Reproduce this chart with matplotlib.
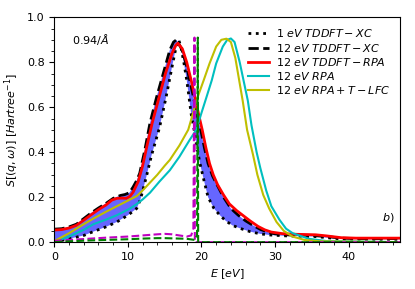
import numpy as np
import matplotlib
matplotlib.use("Agg")
import matplotlib.pyplot as plt
from matplotlib.ticker import MultipleLocator

plt.rcParams['font.size'] = 8

# 1 eV TDDFT-XC (dotted)
E_1xc = [0, 2, 4, 5.3, 7, 8.5, 10, 11.2, 11.7, 12.5, 13.2, 14.3, 15.2, 16.0, 16.5, 16.9,
         17.2, 17.6, 18.0, 18.3, 18.6, 19.0, 19.4, 19.8, 20.3, 20.9, 21.7, 22.5, 23.3,
         24.2, 25.2, 26.6, 28, 29.3, 31.5, 35.5, 38, 40, 47]
S_1xc = [0.0, 0.015, 0.03, 0.047, 0.068, 0.09, 0.12, 0.15, 0.19, 0.29, 0.385, 0.51, 0.647, 0.78, 0.86, 0.90,
         0.87, 0.80, 0.72, 0.647, 0.57, 0.50, 0.42, 0.35, 0.28, 0.20, 0.15, 0.12, 0.095,
         0.075, 0.062, 0.047, 0.037, 0.032, 0.028, 0.025, 0.017, 0.013, 0.013]

# 12 eV TDDFT-XC (dashed)
E_12xc = [0, 1, 2, 3, 4, 5, 6, 7, 8, 9, 9.6, 10.2, 10.7, 11.2, 11.6, 12.3, 13.0, 13.9, 14.8,
          15.7, 16.2, 16.6, 17.3, 17.9, 18.4, 18.9, 19.4, 19.9, 20.4, 20.9, 21.5, 22.2,
          23.0, 24.0, 25.0, 26.0, 27, 28, 29, 30, 32, 35, 37, 39, 41, 47]
S_12xc = [0.058, 0.06, 0.068, 0.08, 0.105, 0.13, 0.152, 0.172, 0.195, 0.208, 0.212, 0.22, 0.245, 0.275, 0.306, 0.41, 0.53, 0.645, 0.75,
          0.855, 0.89, 0.90, 0.86, 0.795, 0.72, 0.647, 0.57, 0.50, 0.42, 0.35, 0.295, 0.25,
          0.20, 0.15, 0.12, 0.095, 0.075, 0.057, 0.045, 0.037, 0.032, 0.03, 0.025, 0.018, 0.016, 0.016]

# 12 eV TDDFT-RPA (red)
E_12rpa = [0, 1, 2, 3, 4, 5, 6, 7, 7.8, 8.5, 9.2, 9.8, 10.3, 10.7, 11.4, 12, 12.6, 13.3, 14.2,
           15.1, 16, 16.5, 16.8, 17.4, 18.0, 18.6, 19.1, 19.6, 20.1, 20.6, 21.1, 21.6, 22.2,
           23.0, 23.8, 24.8, 25.6, 26.6, 27.7, 28.6, 29.5, 31, 33, 35.5, 37, 39, 41, 47]
S_12rpa = [0.054, 0.056, 0.063, 0.075, 0.098, 0.122, 0.145, 0.165, 0.187, 0.195, 0.196, 0.195, 0.205, 0.222, 0.27, 0.34, 0.43, 0.53, 0.64,
           0.75, 0.84, 0.875, 0.885, 0.86, 0.80, 0.72, 0.647, 0.57, 0.50, 0.42, 0.35, 0.30, 0.255,
           0.21, 0.17, 0.14, 0.12, 0.095, 0.07, 0.055, 0.045, 0.038, 0.035, 0.033, 0.028, 0.02, 0.018, 0.018]

# 12 eV RPA (cyan)
E_rpa = [0, 2, 4, 5.3, 7, 8.5, 10.3, 11.2, 12, 13, 14.3, 15.7, 17, 18.4, 19.3, 20, 20.7, 21.4,
         22.0, 22.9, 23.5, 24.0, 24.5, 25.2, 26.3, 26.8, 27.5, 28, 28.8, 29.5, 30.6, 31.5,
         32.4, 34.6, 37, 47]
S_rpa = [0.0, 0.025, 0.055, 0.08, 0.10, 0.12, 0.15, 0.17, 0.19, 0.22, 0.27, 0.32, 0.38, 0.455, 0.50, 0.575, 0.647, 0.72,
         0.795, 0.87, 0.90, 0.906, 0.89, 0.80, 0.63, 0.52, 0.40, 0.33, 0.23, 0.16, 0.10, 0.06,
         0.04, 0.015, 0.005, 0.0]

# 12 eV RPA + T-LFC (yellow)
E_lfc = [0, 2, 4, 5.3, 7, 8.5, 10, 11.2, 12, 13, 14, 15, 15.7, 17, 18.2, 19.5, 20.3, 21.1,
         22.0, 22.7, 23.4, 24.0, 24.6, 25.6, 26.2, 27, 27.6, 28.4, 29.2, 30.2, 31.2, 32.4,
         34, 36, 47]
S_lfc = [0.005, 0.04, 0.08, 0.105, 0.135, 0.16, 0.185, 0.205, 0.23, 0.265, 0.30, 0.34, 0.366, 0.43, 0.50, 0.647, 0.72, 0.795,
         0.87, 0.90, 0.905, 0.89, 0.82, 0.63, 0.50, 0.39, 0.30, 0.21, 0.15, 0.09, 0.05, 0.025,
         0.01, 0.004, 0.0]

# magenta and green dashed (no legend)
E_m = [0, 2, 5, 7, 10, 12, 14, 15, 16, 17, 18, 18.6, 18.9, 19.05, 19.1, 20, 30, 47]
S_m = [0.006, 0.01, 0.016, 0.02, 0.025, 0.03, 0.035, 0.037, 0.035, 0.03, 0.025, 0.03, 0.06, 0.91, 0.0, 0.0, 0.0, 0.0]
E_g = [0, 2, 5, 7, 10, 12, 14, 15, 16, 17, 18, 19.1, 19.4, 19.5, 19.55, 20, 30, 47]
S_g = [0.0, 0.004, 0.008, 0.01, 0.013, 0.016, 0.018, 0.018, 0.017, 0.016, 0.015, 0.01, 0.03, 0.91, 0.0, 0.0, 0.0, 0.0]

fig = plt.figure(figsize=(4.15, 2.89), dpi=100)
ax = fig.add_axes([0.131, 0.162, 0.833, 0.778])

ax.fill(np.concatenate([E_12xc, E_1xc[::-1]]), np.concatenate([S_12xc, S_1xc[::-1]]),
        color='b', alpha=0.6, lw=0)
ax.plot(E_1xc, S_1xc, 'k:', lw=2, label=r'1 $eV\ TDDFT-XC$')
ax.plot(E_12xc, S_12xc, 'k--', lw=2, label=r'12 $eV\ TDDFT-XC$')
ax.plot(E_12rpa, S_12rpa, 'r-', lw=2, label=r'12 $eV\ TDDFT-RPA$')
ax.plot(E_rpa, S_rpa, 'c-', lw=1.5, label=r'12 $eV\ RPA$')
ax.plot(E_lfc, S_lfc, 'y-', lw=1.5, label=r'12 $eV\ RPA+T-LFC$')
ax.plot(E_m, S_m, 'm--', lw=1.5)
ax.plot(E_g, S_g, 'g--', lw=1.5)

ax.set_xlim(0, 47)
ax.set_ylim(0, 1.0)
ax.xaxis.set_major_locator(MultipleLocator(10))
ax.xaxis.set_minor_locator(MultipleLocator(2))
ax.yaxis.set_major_locator(MultipleLocator(0.2))
ax.yaxis.set_minor_locator(MultipleLocator(0.05))
ax.set_xlabel(r'$E\ [eV]$')
ax.set_ylabel(r'$S[(q,\omega)]\ [Hartree^{-1}]$')

ax.text(0.05, 0.9, r'$0.94/Å$', transform=ax.transAxes, va='center')
ax.text(44.6, 0.11, r'$b)$', va='center')
ax.legend(loc='upper right', frameon=False, handlelength=1.9, handletextpad=0.6,
          labelspacing=0.2)

fig.savefig("out.png")
